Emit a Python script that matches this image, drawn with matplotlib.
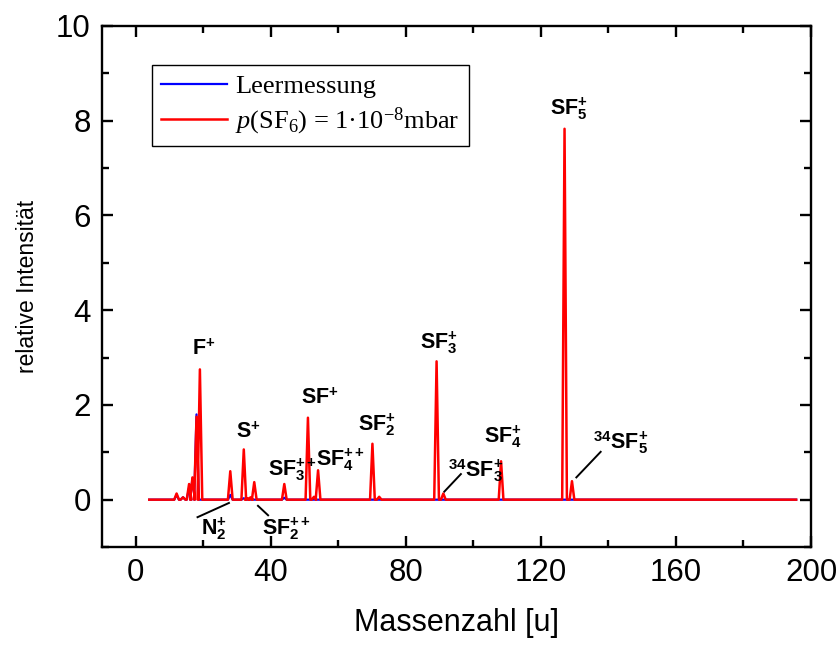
import matplotlib
matplotlib.use('Agg')
import matplotlib.pyplot as plt
from matplotlib.ticker import MultipleLocator

plt.rcParams['font.family'] = ['Liberation Sans', 'DejaVu Sans']
plt.rcParams['mathtext.fontset'] = 'custom'
plt.rcParams['mathtext.rm'] = 'Liberation Serif'
plt.rcParams['mathtext.it'] = 'Liberation Serif:italic'

# ---- data ----
red_mass = [12.1, 14.0, 15.8, 16.8, 18.0, 19.0, 28.0, 32.0, 33.0, 34.0, 35.1,
            44.0, 51.0, 52.8, 54.0, 70.1, 72.1, 89.1, 91.1, 108.2, 127.0, 129.2]
red_int = [0.13, 0.05, 0.33, 0.47, 1.75, 2.75, 0.60, 1.06, 0.03, 0.05, 0.37,
           0.33, 1.73, 0.06, 0.62, 1.18, 0.06, 2.92, 0.13, 0.81, 7.83, 0.39]
blue_mass = [12.1, 14.0, 15.8, 16.8, 18.0, 28.0, 32.0, 44.0]
blue_int = [0.10, 0.05, 0.25, 0.45, 1.80, 0.10, 0.03, 0.04]
scan_range = [4.0, 195.6]

series_labels = ['Leermessung', r'$\mathit{p}$(SF$_\mathregular{6}$) = 1·10$^\mathregular{-8}$mbar']

peak_labels = [r'F$^\mathregular{+}$', r'S$^\mathregular{+}$', r'SF$^\mathregular{+}$',
               r'SF$_\mathregular{2}^\mathregular{+}$', r'SF$_\mathregular{3}^\mathregular{++}$',
               r'SF$_\mathregular{4}^\mathregular{++}$', r'N$_\mathregular{2}^\mathregular{+}$',
               r'SF$_\mathregular{2}^\mathregular{++}$', r'SF$_\mathregular{3}^\mathregular{+}$',
               r'$^\mathregular{34}$SF$_\mathregular{3}^\mathregular{+}$',
               r'SF$_\mathregular{4}^\mathregular{+}$', r'SF$_\mathregular{5}^\mathregular{+}$',
               r'$^\mathregular{34}$SF$_\mathregular{5}^\mathregular{+}$']
peak_label_x = [20.1, 33.4, 54.4, 71.5, 46.5, 60.5, 23.3, 44.5, 89.8, 100.8, 108.9, 128.2, 143.5]
peak_label_y = [3.16, 1.42, 2.14, 1.58, 0.62, 0.84, -0.62, -0.62, 3.32, 0.62, 1.32, 8.26, 1.2]

# leader lines: (x0, y0, x1, y1)
leader_x0 = [18.3, 36.2, 91.4, 130.5]
leader_y0 = [-0.37, -0.13, 0.17, 0.47]
leader_x1 = [27.6, 39.2, 96.3, 137.7]
leader_y1 = [-0.07, -0.33, 0.54, 1.01]

HW = 0.7  # peak half-width for drawing


def trace(masses, heights):
    xs, ys = [scan_range[0]], [0.0]
    for m, h in sorted(zip(masses, heights)):
        xs += [m - HW, m, m + HW]
        ys += [0.0, h, 0.0]
    xs.append(scan_range[1])
    ys.append(0.0)
    return xs, ys


fig = plt.figure(figsize=(8.4, 6.45), dpi=100)
ax = fig.add_axes([0.1214, 0.1519, 0.8441, 0.8078])

bx, by = trace(blue_mass, blue_int)
rx, ry = trace(red_mass, red_int)
lb, = ax.plot(bx, by, color='#0000ff', lw=1.6, label=series_labels[0])
lr, = ax.plot(rx, ry, color='#ff0000', lw=1.8, label=series_labels[1])

for t, x, y in zip(peak_labels, peak_label_x, peak_label_y):
    ax.text(x, y, t, ha='center', va='center', fontsize=15.5, fontweight='bold')

for x0, y0, x1, y1 in zip(leader_x0, leader_y0, leader_x1, leader_y1):
    ax.plot([x0, x1], [y0, y1], color='black', lw=1.4)

ax.set_xlim(-10, 200)
ax.set_ylim(-1, 10)
ax.xaxis.set_major_locator(MultipleLocator(40))
ax.xaxis.set_minor_locator(MultipleLocator(20))
ax.yaxis.set_major_locator(MultipleLocator(2))
ax.yaxis.set_minor_locator(MultipleLocator(1))
ax.tick_params(which='both', direction='in', top=True, right=True, width=1.7)
ax.tick_params(which='major', length=8, labelsize=22.5, pad=8)
ax.tick_params(which='minor', length=5)
for s in ax.spines.values():
    s.set_linewidth(1.7)

ax.set_xlabel('Massenzahl [u]', fontsize=22, labelpad=14)
ax.set_ylabel('relative Intensität', fontsize=16.5, labelpad=12)

leg = ax.legend(handles=[lb, lr], loc='upper left', bbox_to_anchor=(0.0705, 0.925),
                borderaxespad=0, prop={'family': 'Liberation Serif', 'size': 19},
                fancybox=False, framealpha=1, edgecolor='black', handlelength=2.5,
                handletextpad=0.3, borderpad=0.35, labelspacing=0.3)
leg.get_frame().set_linewidth(1.0)

fig.savefig('out.png', dpi=100)
